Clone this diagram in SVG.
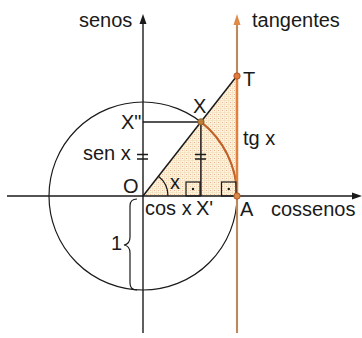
<svg xmlns="http://www.w3.org/2000/svg" width="362" height="338" viewBox="0 0 362 338">
<style>
  text { font-family: "Liberation Sans", Arial, sans-serif; font-size: 20px; fill: #1a1a1a; }
  .ax { stroke: #1a1a1a; stroke-width: 1.4; fill: none; }
  .ln { stroke: #1a1a1a; stroke-width: 1.5; fill: none; }
  .thin { stroke: #1a1a1a; stroke-width: 1.2; fill: none; }
</style>
<defs>
  <pattern id="hatch" width="4" height="4" patternUnits="userSpaceOnUse">
    <rect width="4" height="4" fill="#fcf3e0"/>
    <path d="M0,0.5H4M0.5,0V4" stroke="#f0d9b0" stroke-width="0.5"/>
    <circle cx="2.5" cy="2.5" r="0.55" fill="#eaa684"/>
  </pattern>
</defs>
<rect width="362" height="338" fill="#ffffff"/>

<g id="shaded">
  <polygon points="143,196 237,75.7 237,196" fill="url(#hatch)"/>
</g>

<g id="circle">
  <circle cx="143" cy="196" r="94" class="thin"/>
  <path d="M200.9,121.9 A94,94 0 0 1 237,196" stroke="#c4622a" stroke-width="2" fill="none"/>
</g>

<g id="connectors">
  <!-- horizontal axis -->
  <line x1="7" y1="196" x2="354" y2="196" class="ax"/>
  <polygon points="362,196 352,192.5 352,199.5" fill="#1a1a1a"/>
  <!-- vertical axis -->
  <line x1="143" y1="333" x2="143" y2="22" class="ax"/>
  <polygon points="143,14 139.5,24 146.5,24" fill="#1a1a1a"/>
  <!-- tangent axis -->
  <line x1="237" y1="333" x2="237" y2="22" stroke="#edbb88" stroke-width="2.2"/>
  <line x1="237" y1="333" x2="237" y2="22" stroke="#6b4220" stroke-width="0.8"/>
  <line x1="237" y1="75.7" x2="237" y2="196" stroke="#e0803c" stroke-width="2.4"/>
  <polygon points="237,14 233.5,25 240.5,25" fill="#e08a48"/>
  <!-- OT -->
  <line x1="143" y1="196" x2="237" y2="75.7" class="ln"/>
  <!-- X'' X -->
  <line x1="143" y1="121.9" x2="200.9" y2="121.9" class="ln"/>
  <!-- X X' -->
  <line x1="200.9" y1="121.9" x2="200.9" y2="196" class="ln"/>
  <!-- equal ticks -->
  <path d="M137,154.5H148M137,159H148" class="ln"/>
  <path d="M195,154.5H206M195,159H206" class="ln"/>
  <!-- angle arc -->
  <path d="M168,196 A25,25 0 0 0 158.4,176.3" class="thin"/>
  <!-- right angle marks -->
  <rect x="186" y="182" width="14" height="14" class="thin"/>
  <circle cx="193" cy="189" r="1.2" fill="#1a1a1a"/>
  <rect x="221.5" y="182" width="14.5" height="14" class="thin"/>
  <circle cx="228.8" cy="189" r="1.2" fill="#1a1a1a"/>
  <!-- brace -->
  <path d="M137,199 Q130,199 130,206 L130,237 Q130,244 124,245 Q130,246 130,253 L130,283 Q130,290 137,290" class="thin"/>
</g>

<g id="points">
  <circle id="T" cx="237" cy="76" r="3.2" fill="#e07a3c" stroke="#a0481c" stroke-width="0.8"/>
  <circle id="X" cx="200.9" cy="121.9" r="3.2" fill="#c07a3a" stroke="#6b5a2a" stroke-width="0.8"/>
  <circle id="A" cx="237" cy="196" r="3.2" fill="#d98a48" stroke="#a0481c" stroke-width="0.8"/>
</g>

<g id="labels">
  <text x="79" y="27">senos</text>
  <text x="252" y="27">tangentes</text>
  <text x="243" y="86">T</text>
  <text x="193" y="113">X</text>
  <text x="121" y="129">X"</text>
  <text x="243" y="145">tg x</text>
  <text x="83" y="160">sen x</text>
  <text x="123" y="193">O</text>
  <text x="170" y="189">x</text>
  <text x="145" y="215">cos x</text>
  <text x="196" y="215">X'</text>
  <text x="240" y="216">A</text>
  <text x="271" y="216">cossenos</text>
  <text x="111" y="250">1</text>
</g>
</svg>
